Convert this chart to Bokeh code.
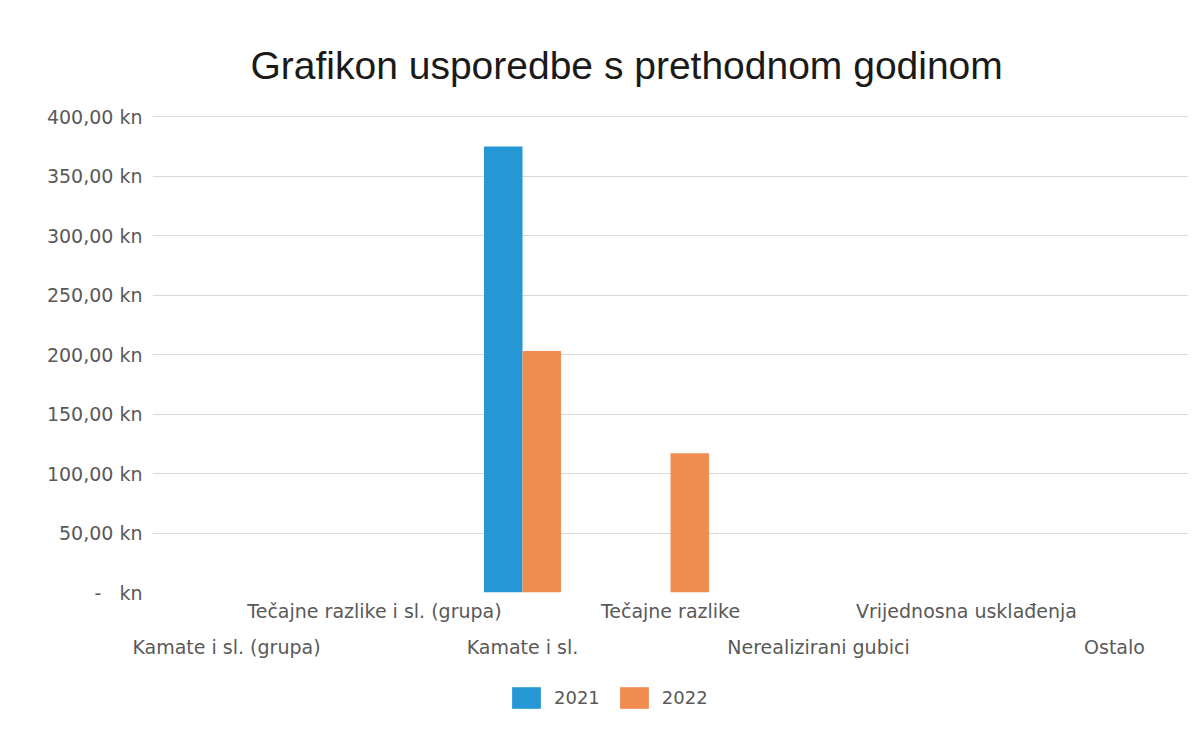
from bokeh.plotting import figure
from bokeh.models import (Range1d, FixedTicker, LinearAxis, Legend, LegendItem,
                          ColumnDataSource, Grid)
from bokeh.layouts import column
from bokeh.transform import dodge
from bokeh.embed import file_html
from bokeh.resources import INLINE

categories = ["Kamate i sl. (grupa)", "Tečajne razlike i sl. (grupa)", "Kamate i sl.",
              "Tečajne razlike", "Nerealizirani gubici", "Vrijednosna usklađenja", "Ostalo"]
v2021 = [0, 0, 375, 0, 0, 0, 0]
v2022 = [0, 0, 203, 117, 0, 0, 0]
y_ticks = [0, 50, 100, 150, 200, 250, 300, 350, 400]
series = ["2021", "2022"]
colors = ["#2597D4", "#F08C50"]

idx = list(range(len(categories)))
src = ColumnDataSource(dict(idx=idx, v2021=v2021, v2022=v2022))

p = figure(frame_width=1036, frame_height=477, output_backend="svg", toolbar_location=None,
           x_range=Range1d(-0.5, len(categories) - 0.5), y_range=Range1d(0, 401),
           x_axis_type=None, y_axis_type=None,
           min_border_left=152, min_border_right=0, min_border_top=115,
           min_border_bottom=68)

p.title.text = "Grafikon usporedbe s prethodnom godinom"
p.title.text_font = "Liberation Sans"
p.title.text_font_size = "39px"
p.title.text_font_style = "normal"
p.title.text_color = "#1a1a1a"
p.title.align = "left"
p.title.offset = 98
p.title.standoff = 58

p.outline_line_color = None
p.background_fill_color = "white"
p.border_fill_color = "white"

bw = 0.26
r1 = p.vbar(x=dodge("idx", -bw / 2, range=p.x_range), top="v2021", width=bw,
            source=src, fill_color=colors[0], line_color=None)
r2 = p.vbar(x=dodge("idx", bw / 2, range=p.x_range), top="v2022", width=bw,
            source=src, fill_color=colors[1], line_color=None)


def fmt(v):
    return "-\u00a0\u00a0\u00a0kn" if v == 0 else f"{v:.2f}".replace(".", ",") + " kn"


yax = LinearAxis(ticker=FixedTicker(ticks=y_ticks),
                 major_label_overrides={v: fmt(v) for v in y_ticks})
yax.axis_line_color = None
yax.major_tick_line_color = None
yax.minor_tick_line_color = None
yax.major_tick_in = 0
yax.major_tick_out = 0
yax.major_label_standoff = 10
yax.major_label_text_font = "DejaVu Sans"
yax.major_label_text_font_size = "19px"
yax.major_label_text_color = "#595959"
p.add_layout(yax, "left")

grid = Grid(dimension=1, ticker=FixedTicker(ticks=y_ticks),
            grid_line_color="#d9d9d9", grid_line_width=1)
p.add_layout(grid)


def cat_axis(ticks, standoff):
    ax = LinearAxis(ticker=FixedTicker(ticks=ticks),
                    major_label_overrides={i: categories[i] for i in ticks})
    ax.axis_line_color = None
    ax.major_tick_line_color = None
    ax.minor_tick_line_color = None
    ax.major_tick_in = 0
    ax.major_tick_out = 0
    ax.major_label_standoff = standoff
    ax.major_label_text_font = "DejaVu Sans"
    ax.major_label_text_font_size = "19px"
    ax.major_label_text_color = "#595959"
    return ax


p.add_layout(cat_axis([i for i in idx if i % 2 == 1], 7), "below")
p.add_layout(cat_axis([i for i in idx if i % 2 == 0], 11), "below")

# legend strip (frames of a column are aligned, so x is relative to the frame)
lg = figure(width=1188, height=72, output_backend="svg", toolbar_location=None,
            x_range=Range1d(0, 1), y_range=Range1d(0, 1),
            x_axis_type=None, y_axis_type=None, min_border=0)
lg.outline_line_color = None
lg.grid.visible = False
zero = ColumnDataSource(dict(x=[0.5], top=[0]))
d1 = lg.vbar(x="x", top="top", width=0.01, source=zero, fill_color=colors[0], line_color=None)
d2 = lg.vbar(x="x", top="top", width=0.01, source=zero, fill_color=colors[1], line_color=None)
legend = Legend(items=[LegendItem(label=series[0], renderers=[d1]),
                       LegendItem(label=series[1], renderers=[d2])],
                orientation="horizontal", location=(356, 21))
legend.glyph_width = 36
legend.glyph_height = 27
legend.label_text_font = "DejaVu Sans"
legend.label_text_font_size = "18px"
legend.label_text_color = "#595959"
legend.border_line_color = None
legend.background_fill_alpha = 0
legend.spacing = 16
legend.label_standoff = 10
legend.margin = 0
legend.padding = 0
lg.add_layout(legend, "center")

layout = column(p, lg, spacing=0)
open("out.html", "w").write(file_html(layout, INLINE))
